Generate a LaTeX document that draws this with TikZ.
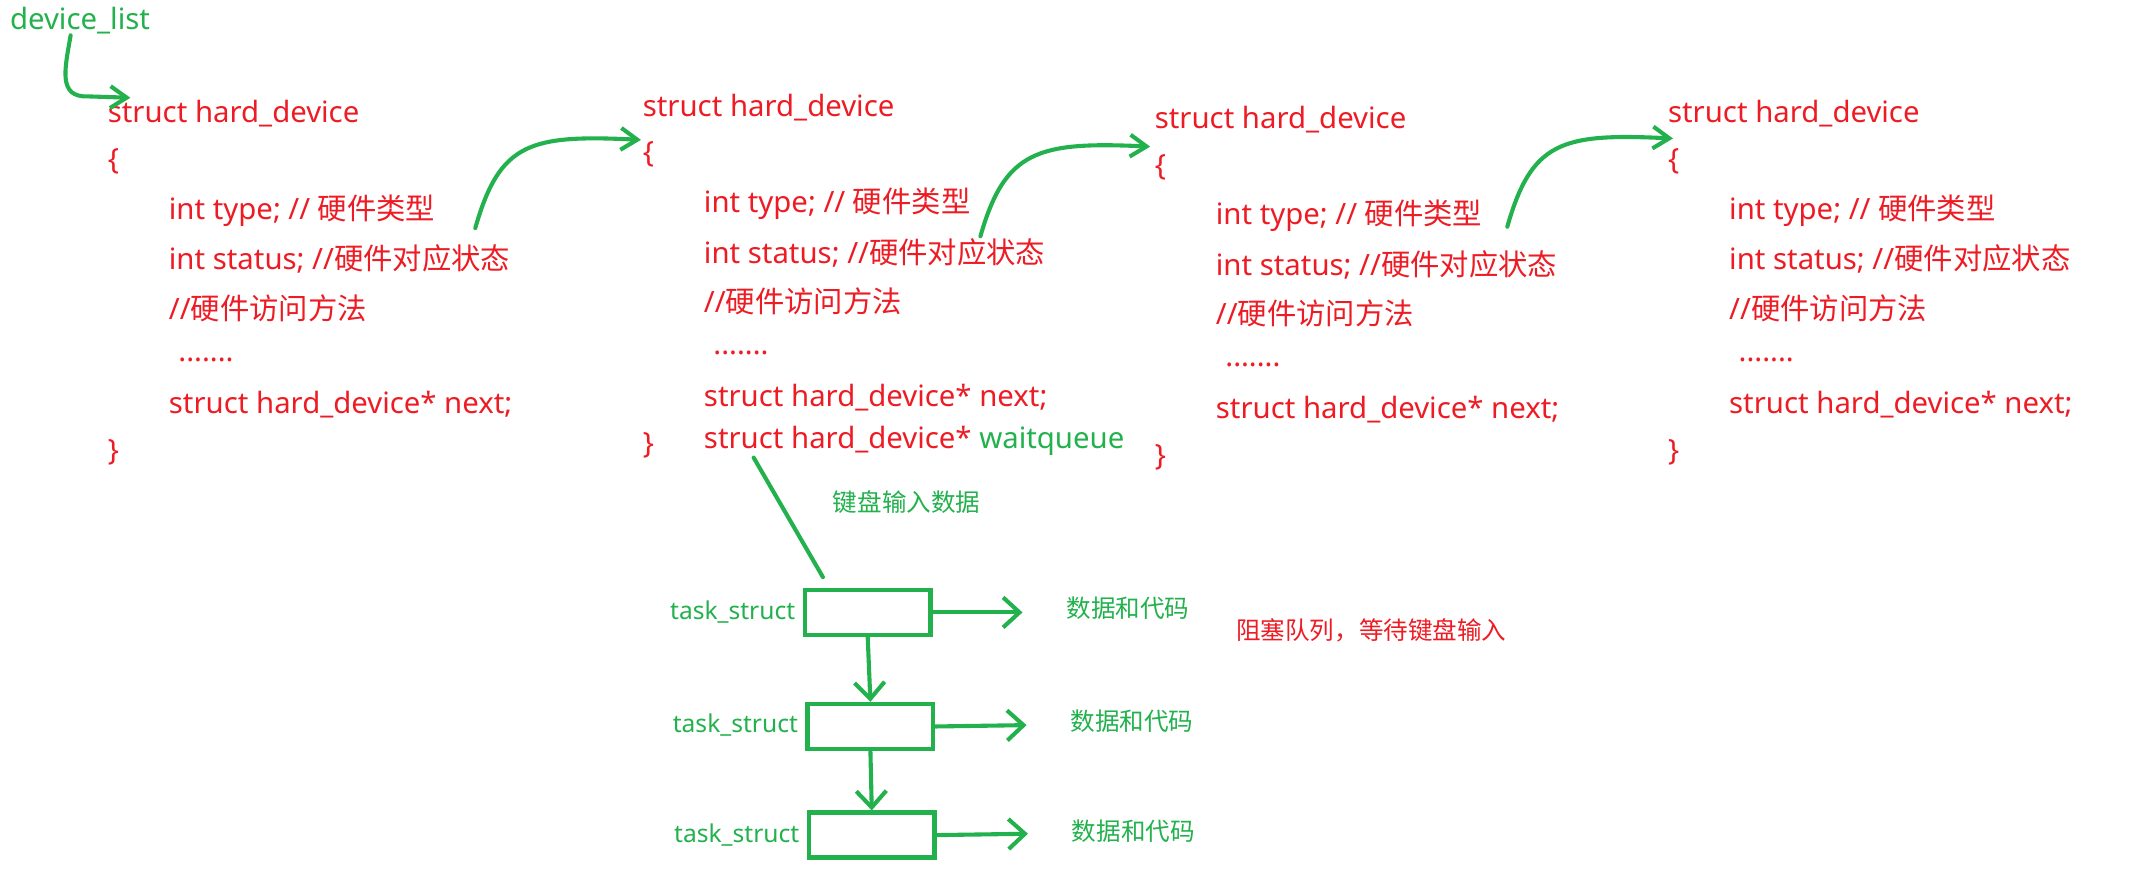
\documentclass[tikz,border=0pt]{standalone}
\usepackage{fontspec}
\setmainfont{Noto Sans}
\newfontfamily\cjk{Noto Sans CJK SC}
\usetikzlibrary{arrows.meta}
\definecolor{pred}{HTML}{ED1C24}
\definecolor{pgreen}{HTML}{22B14C}
\newcommand\hdblock[3]{%
  \node[code] (#1s) at (#2,#3) {struct hard\_device};
  \node[code] (#1o) at (#2,#3+35) {\{};
  \node[code] (#1t) at (#2+45,#3+71) {int type; // {\cjk 硬件类型}};
  \node[code] (#1u) at (#2+45,#3+107) {int status; //{\cjk 硬件对应状态}};
  \node[code] (#1m) at (#2+45,#3+143) {//{\cjk 硬件访问方法}};
  \node[code] (#1d) at (#2+52,#3+181) {.......};
  \node[code] (#1n) at (#2+45,#3+214) {struct hard\_device* next;};
  \node[code] (#1c) at (#2,#3+249) {\}};
}
\begin{document}
\begin{tikzpicture}[x=0.4975pt,y=-0.4975pt,
  code/.style={anchor=west,inner sep=0pt,text=pred,font=\fontsize{10.75}{13}\selectfont},
  gtxt/.style={anchor=west,inner sep=0pt,text=pgreen,font=\fontsize{9}{11}\selectfont},
  link/.style={draw=pgreen,line width=1.5pt,line cap=round,line join=round},
  arr/.style={link,-{Straight Barb[length=6pt,width=8pt,line width=1.5pt]}},
  arrbig/.style={link,-{Straight Barb[length=6pt,width=11pt,line width=1.5pt]}},
  task/.style={draw=pgreen,line width=1.6pt,minimum width=46pt,minimum height=16.5pt,inner sep=0pt}]
\useasboundingbox (0pt,0pt) rectangle (780pt,-320pt);

% device list head
\node[anchor=west,inner sep=0pt,text=pgreen,font=\fontsize{10.75}{13}\selectfont] (dl) at (7,15) {device\_list};

% the four hard_device blocks
\hdblock{A}{79}{84}
\hdblock{B}{473}{79}
\hdblock{C}{850}{88}
\hdblock{D}{1228}{84}

% extra line of block B
\node[code] (Bw) at (518,325) {struct hard\_device* \textcolor{pgreen}{waitqueue}};

% connectors between blocks
\coordinate (dls) at (52,26);
\coordinate (dle) at (96,72);
\draw[arr] (dls) .. controls (48,50) and (42,72) .. (65,71) -- (dle);

\coordinate (a1) at (350,168);
\coordinate (a2) at (472,103);
\draw[arr] (a1) .. controls (368,105) and (390,99) .. (a2);

\coordinate (b1s) at (722,174);
\coordinate (b2e) at (847,108);
\draw[arr] (b1s) .. controls (740,111) and (764,104) .. (b2e);

\coordinate (c1) at (1110,167);
\coordinate (c2) at (1232,102);
\draw[arr] (c1) .. controls (1128,104) and (1150,98) .. (c2);

% wait queue
\node[gtxt] (kb) at (613,370) {\cjk 键盘输入数据};
\node[task] (t1) at (639,451) {};
\node[task] (t2) at (641,535) {};
\node[task] (t3) at (642,615) {};
\node[gtxt,anchor=east] (l1) at (586,451) {task\_struct};
\node[gtxt,anchor=east] (l2) at (588,534) {task\_struct};
\node[gtxt,anchor=east] (l3) at (589,615) {task\_struct};
\coordinate (wqs) at (555,337);
\coordinate (wqe) at (606,425);
\draw[link] (wqs) -- (wqe);
\draw[arrbig] (t1.south) -- (t2.north);
\draw[arrbig] (t2.south) -- (t3.north);
\coordinate (r1) at (753,451);
\coordinate (r2) at (756,534);
\coordinate (r3) at (757,614);
\draw[arrbig] (t1.east) -- (r1);
\draw[arrbig] (t2.east) -- (r2);
\draw[arrbig] (t3.east) -- (r3);
\node[gtxt] (dc1) at (785,448) {\cjk 数据和代码};
\node[gtxt] (dc2) at (788,531) {\cjk 数据和代码};
\node[gtxt] (dc3) at (789,612) {\cjk 数据和代码};
\node[gtxt,text=pred] (blk) at (910,464) {\cjk 阻塞队列，等待键盘输入};
\end{tikzpicture}
\end{document}
